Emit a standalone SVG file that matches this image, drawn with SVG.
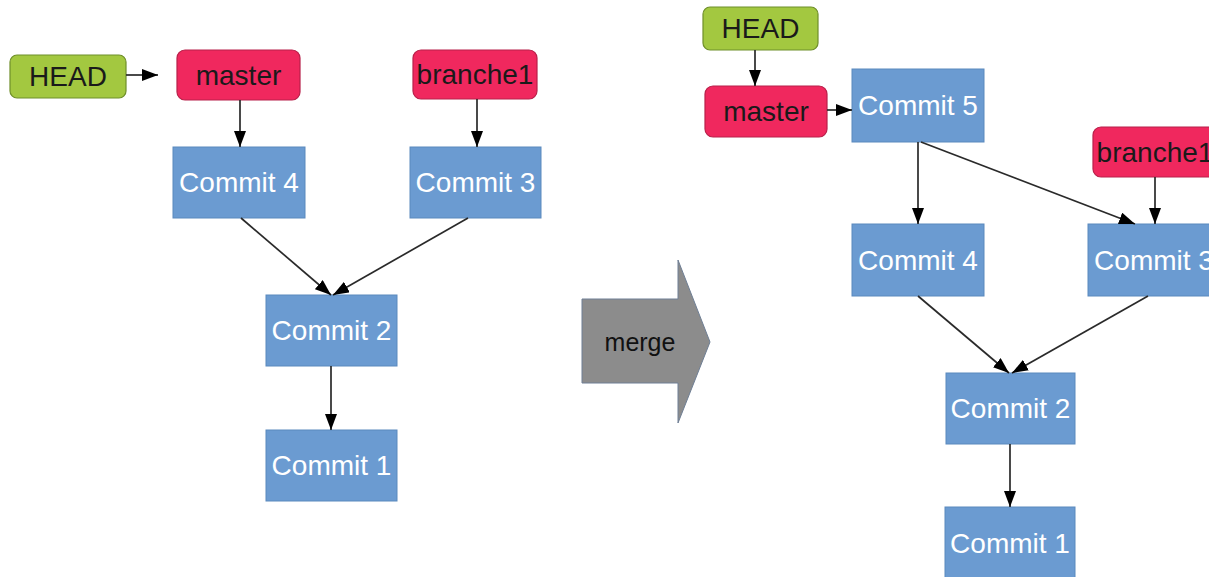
<svg xmlns="http://www.w3.org/2000/svg" width="1209" height="577" viewBox="0 0 1209 577">
  <style>
    .commit rect { fill: #6b9bd1; stroke: #5b89bd; stroke-width: 1; }
    .commit text { fill: #ffffff; font-family: "Liberation Sans", Arial, sans-serif; font-size: 28px; text-anchor: middle; dominant-baseline: central; }
    .head rect { fill: #a3c840; stroke: #6f8f2a; stroke-width: 1.2; }
    .ref rect { fill: #f0285e; stroke: #b8204a; stroke-width: 1.2; }
    .label text { fill: #1a1a1a; font-family: "Liberation Sans", Arial, sans-serif; font-size: 28px; text-anchor: middle; dominant-baseline: central; }
    .edge { stroke: #2a2a2a; stroke-width: 1.7; fill: none; marker-end: url(#tip); }
  </style>
  <defs>
    <marker id="tip" viewBox="0 0 16 12" refX="16" refY="6" markerWidth="16" markerHeight="12" markerUnits="userSpaceOnUse" orient="auto">
      <path d="M0,0 L16,6 L0,12 Z" fill="#000000"/>
    </marker>
  </defs>

  <rect x="0" y="0" width="1209" height="577" fill="#ffffff"/>

  <!-- Before merge -->
  <g id="head-left" class="label head">
    <rect x="10" y="55" width="116" height="43" rx="7"/>
    <text x="68" y="76.5">HEAD</text>
  </g>
  <g id="master-left" class="label ref">
    <rect x="177" y="50" width="123" height="50" rx="8"/>
    <text x="238.5" y="75">master</text>
  </g>
  <g id="branche1-left" class="label ref">
    <rect x="413" y="50" width="124" height="49" rx="8"/>
    <text x="475" y="74.5">branche1</text>
  </g>
  <g id="commit4-left" class="commit">
    <rect x="173" y="147" width="132" height="71"/>
    <text x="239" y="182.5">Commit 4</text>
  </g>
  <g id="commit3-left" class="commit">
    <rect x="410" y="147" width="131" height="71"/>
    <text x="475.5" y="182.5">Commit 3</text>
  </g>
  <g id="commit2-left" class="commit">
    <rect x="266" y="295" width="131" height="71"/>
    <text x="331.5" y="330.5">Commit 2</text>
  </g>
  <g id="commit1-left" class="commit">
    <rect x="266" y="430" width="131" height="71"/>
    <text x="331.5" y="465.5">Commit 1</text>
  </g>

  <!-- Merge arrow -->
  <g id="merge">
    <path d="M582,299 L678,299 L678,260 L710,342 L678,423 L678,383 L582,383 Z" fill="#8c8c8c" stroke="#6f7f95" stroke-width="1"/>
    <text x="640" y="342" font-family="Liberation Sans, Arial, sans-serif" font-size="25" fill="#111111" text-anchor="middle" dominant-baseline="central">merge</text>
  </g>

  <!-- After merge -->
  <g id="head-right" class="label head">
    <rect x="703" y="7" width="115" height="43" rx="7"/>
    <text x="760.5" y="28.5">HEAD</text>
  </g>
  <g id="master-right" class="label ref">
    <rect x="705" y="86" width="122" height="51" rx="8"/>
    <text x="766" y="111.5">master</text>
  </g>
  <g id="branche1-right" class="label ref">
    <rect x="1093" y="127" width="124" height="50" rx="8"/>
    <text x="1155" y="152">branche1</text>
  </g>
  <g id="commit5-right" class="commit">
    <rect x="852" y="69" width="132" height="73"/>
    <text x="918" y="105.5">Commit 5</text>
  </g>
  <g id="commit4-right" class="commit">
    <rect x="852" y="224" width="132" height="72"/>
    <text x="918" y="260">Commit 4</text>
  </g>
  <g id="commit3-right" class="commit">
    <rect x="1088" y="224" width="132" height="72"/>
    <text x="1154" y="260">Commit 3</text>
  </g>
  <g id="commit2-right" class="commit">
    <rect x="946" y="373" width="129" height="71"/>
    <text x="1010.5" y="408.5">Commit 2</text>
  </g>
  <g id="commit1-right" class="commit">
    <rect x="945" y="507" width="130" height="72"/>
    <text x="1010" y="543">Commit 1</text>
  </g>

  <!-- Connectors -->
  <g id="edges">
    <line class="edge" x1="126" y1="75" x2="158" y2="75"/>
    <line class="edge" x1="240" y1="100" x2="240" y2="147"/>
    <line class="edge" x1="477" y1="99" x2="477" y2="147"/>
    <line class="edge" x1="241" y1="218" x2="331" y2="295"/>
    <line class="edge" x1="468" y1="218" x2="333" y2="295"/>
    <line class="edge" x1="331" y1="366" x2="331" y2="430"/>

    <line class="edge" x1="755" y1="50" x2="755" y2="86"/>
    <line class="edge" x1="827" y1="110" x2="852" y2="110"/>
    <line class="edge" x1="918" y1="142" x2="918" y2="224"/>
    <line class="edge" x1="921" y1="142" x2="1135" y2="224"/>
    <line class="edge" x1="1155" y1="177" x2="1155" y2="224"/>
    <line class="edge" x1="918" y1="296" x2="1009" y2="373"/>
    <line class="edge" x1="1148" y1="296" x2="1012" y2="373"/>
    <line class="edge" x1="1010" y1="444" x2="1010" y2="507"/>
  </g>
</svg>
